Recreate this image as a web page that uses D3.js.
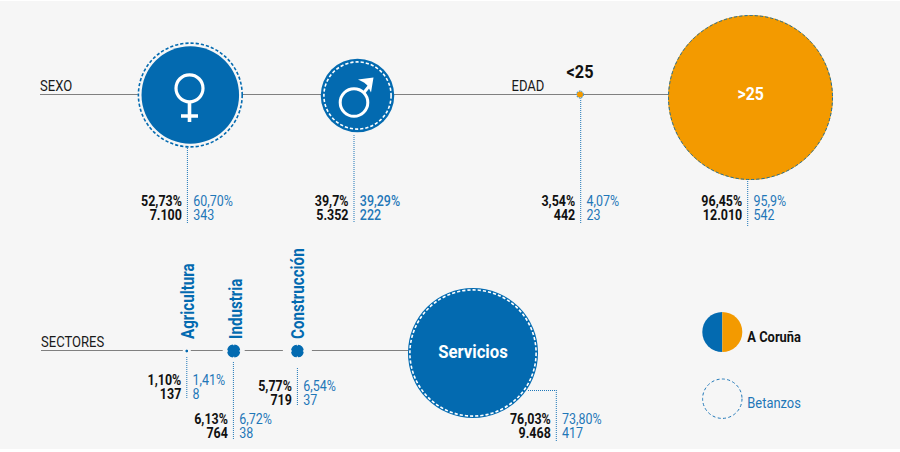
<!DOCTYPE html>
<html>
<head>
<meta charset="utf-8">
<script src="https://cdnjs.cloudflare.com/ajax/libs/d3/7.8.5/d3.min.js"></script>
<style>
  html, body { margin: 0; padding: 0; background: #fff; }
  svg { display: block; }
  text { font-family: Roboto, sans-serif; }
</style>
</head>
<body>
<svg width="900" height="452"></svg>
<script>
// values
const categories = ['Mujeres', 'Hombres', '<25', '>25', 'Agricultura', 'Industria', 'Construcción', 'Servicios'];
const coruñaPct = ['52,73%', '39,7%', '3,54%', '96,45%', '1,10%', '6,13%', '5,77%', '76,03%'];
const coruñaNum = ['7.100', '5.352', '442', '12.010', '137', '764', '719', '9.468'];
const betanzosPct = ['60,70%', '39,29%', '4,07%', '95,9%', '1,41%', '6,72%', '6,54%', '73,80%'];
const betanzosNum = ['343', '222', '23', '542', '8', '38', '37', '417'];
const rowLabels = ['SEXO', 'EDAD', 'SECTORES'];
const legendLabels = ['A Coruña', 'Betanzos'];

const blue = '#036ab0';
const textBlue = '#1f77b8';
const orange = '#f39a00';
const bg = '#f6f6f6';
const narrow = 0.89;

const pctValue = s => parseFloat(s.replace(',', '.'));
const numValue = s => +s.replace('.', '');

var svg = d3.select('svg');

// layout scales
var cx = d3.scaleOrdinal(categories, [190.3, 357.5, 580, 750.5, 186.8, 233.7, 297.4, 473]);
var cy = d3.scaleOrdinal(categories, [95, 95.5, 94.5, 97.5, 351, 351, 351, 353]);
var rCoruna = d3.scaleLinear().domain([0, 12010]).range([0, 82.5]);
var rBetanzos = d3.scaleLinear().domain([0, 100]).range([0, 85.5]);
var groupColor = d3.scaleOrdinal(categories, [blue, blue, orange, orange, blue, blue, blue, blue]);

// where the number block sits: the leader x, its y range and the first baseline
var leaderX = d3.scaleOrdinal(categories, [187.4, 354, 580.7, 747.7, 186.8, 233.4, 297.4, 556.3]);
var leaderTop = d3.scaleOrdinal(categories, [148, 135, 98, 181, 357, 362, 368, 390]);
var leaderEnd = d3.scaleOrdinal(categories, [224, 223, 224, 226, 399, 439, 405, 441]);
var baseline = d3.scaleOrdinal(categories, [206, 206, 206, 206, 384.7, 424.3, 391, 423.7]);

function label(parent, x, y, str, size, weight, fill, anchor, sx) {
  return parent.append('text')
    .attr('transform', 'translate(' + x + ',' + y + ') scale(' + (sx || narrow) + ',1)')
    .attr('text-anchor', anchor || 'start')
    .attr('font-size', size)
    .attr('font-weight', weight)
    .attr('fill', fill)
    .text(str);
}

svg.append('rect').attr('y', 1).attr('width', 900).attr('height', 448).attr('fill', bg);

// row lines
var lines = svg.append('g').attr('stroke', '#808080').attr('stroke-width', 1.2);
lines.append('line').attr('x1', 40).attr('x2', 668).attr('y1', 94.5).attr('y2', 94.5);
lines.append('line').attr('x1', 41).attr('x2', 408).attr('y1', 350.5).attr('y2', 350.5);

label(svg, 40, 91, rowLabels[0], 14.5, 400, '#1a1a1a', 'start', 0.9);
label(svg, 511.5, 91, rowLabels[1], 14.5, 400, '#1a1a1a', 'start', 0.9);
label(svg, 41, 347, rowLabels[2], 14.5, 400, '#1a1a1a', 'start', 0.9);

// gaps that the small sector markers cut in the line
var gaps = d3.scaleOrdinal(['Agricultura', 'Industria', 'Construcción'], [4, 11, 14.5]);
svg.append('g').selectAll('rect')
  .data(['Agricultura', 'Industria', 'Construcción'])
  .join('rect')
  .attr('x', d => cx(d) - gaps(d))
  .attr('width', d => gaps(d) * 2)
  .attr('y', 348)
  .attr('height', 5)
  .attr('fill', bg);

// leaders
svg.append('g').selectAll('line')
  .data(categories)
  .join('line')
  .attr('x1', d => leaderX(d))
  .attr('x2', d => leaderX(d))
  .attr('y1', d => leaderTop(d))
  .attr('y2', d => leaderEnd(d))
  .attr('stroke', textBlue)
  .attr('stroke-width', 1)
  .attr('stroke-dasharray', '1 1');
svg.append('line')
  .attr('x1', 528).attr('x2', 556.3).attr('y1', 390.5).attr('y2', 390.5)
  .attr('stroke', textBlue).attr('stroke-dasharray', '1 1');

// bubbles: solid A Coruña, dashed Betanzos
var bubbles = svg.append('g').selectAll('g')
  .data(categories.map((c, i) => ({ c: c, i: i })))
  .join('g')
  .attr('transform', d => 'translate(' + cx(d.c) + ',' + cy(d.c) + ')');

bubbles.filter(d => pctValue(betanzosPct[d.i]) > pctValue(coruñaPct[d.i]))
  .append('circle')
  .attr('r', d => rBetanzos(pctValue(betanzosPct[d.i])) + 0.5)
  .attr('fill', bg);

bubbles.append('circle')
  .attr('r', d => Math.max(rCoruna(numValue(coruñaNum[d.i])), 1.2))
  .attr('fill', d => groupColor(d.c));

const dashR = d => rBetanzos(pctValue(betanzosPct[d.i]));
const sectorMark = d => d.c === 'Industria' || d.c === 'Construcción';

bubbles.filter(d => d.c !== 'Agricultura').append('circle')
  .attr('r', dashR)
  .attr('fill', d => sectorMark(d) ? blue : 'none')
  .attr('stroke', d => (d.c === 'Hombres' || d.c === 'Servicios') ? '#fff' : blue)
  .attr('stroke-width', d => sectorMark(d) ? 1.6 : (d.c === '<25' || d.c === '>25') ? 0.9 : 1.6)
  .attr('pathLength', d => sectorMark(d) ? 4 : null)
  .attr('stroke-dashoffset', d => sectorMark(d) ? 0.93 : null)
  .attr('stroke-dasharray', d => sectorMark(d) ? '0.86 0.14' : d.c === '<25' ? '1.5 1' : '3.2 2');

bubbles.filter(d => d.c === 'Agricultura').append('circle')
  .attr('r', dashR)
  .attr('fill', blue);

// number blocks
categories.forEach((c, i) => {
  var x = leaderX(c), y = baseline(c);
  label(svg, x - 5.5, y, coruñaPct[i], 14, 700, '#111', 'end');
  label(svg, x - 5.5, y + 14, coruñaNum[i], 14, 700, '#111', 'end');
  label(svg, x + 5.8, y, betanzosPct[i], 14, c === 'Hombres' ? 500 : 400, textBlue, 'start');
  label(svg, x + 5.8, y + 14, betanzosNum[i], 14, c === 'Hombres' ? 500 : 400, textBlue, 'start');
});

// female and male symbols
var icons = svg.append('g').attr('fill', 'none').attr('stroke', '#fff');
icons.append('circle').attr('cx', 189.5).attr('cy', 88.3).attr('r', 13.5).attr('stroke-width', 3.2);
icons.append('path').attr('d', 'M189.5 103V122M181 116H198').attr('stroke-width', 3.6);
icons.append('circle').attr('cx', 354).attr('cy', 102.5).attr('r', 13.8).attr('stroke-width', 3);
icons.append('path').attr('d', 'M364 92.5L370 85').attr('stroke-width', 3);
icons.append('path').attr('d', 'M358 79.5L373.5 77.5L371 92.5L367.5 85.5L364 82.5Z').attr('fill', '#fff').attr('stroke', 'none');

// names on the bubbles
label(svg, 580, 78, categories[2], 18.5, 700, '#111', 'middle', 0.88);
label(svg, 750.7, 100, categories[3], 18, 700, '#fff', 'middle', 0.88);
label(svg, 473, 357.5, categories[7], 19, 700, '#fff', 'middle', 0.88);

['Agricultura', 'Industria', 'Construcción'].forEach((c, i) => {
  var x = [194, 241.7, 304][i];
  svg.append('text')
    .attr('transform', 'translate(' + x + ',339) rotate(-90) scale(0.86,1)')
    .attr('font-size', 17.6)
    .attr('font-weight', 700)
    .attr('fill', blue)
    .text(c);
});

// legend
var arc = d3.arc().innerRadius(0).outerRadius(20);
var legend = svg.append('g').attr('transform', 'translate(722.3,332)');
legend.append('path').attr('fill', blue).attr('d', arc({ startAngle: Math.PI, endAngle: 2 * Math.PI }));
legend.append('path').attr('fill', orange).attr('d', arc({ startAngle: 0, endAngle: Math.PI }));
label(svg, 747.3, 341.5, legendLabels[0], 14.5, 700, '#111', 'start');
svg.append('circle')
  .attr('cx', 722.3).attr('cy', 398.7).attr('r', 19.7)
  .attr('fill', 'none').attr('stroke', textBlue).attr('stroke-width', 1).attr('stroke-dasharray', '3 2.4');
label(svg, 747.3, 408, legendLabels[1], 14.5, 400, textBlue, 'start');
</script>
</body>
</html>
